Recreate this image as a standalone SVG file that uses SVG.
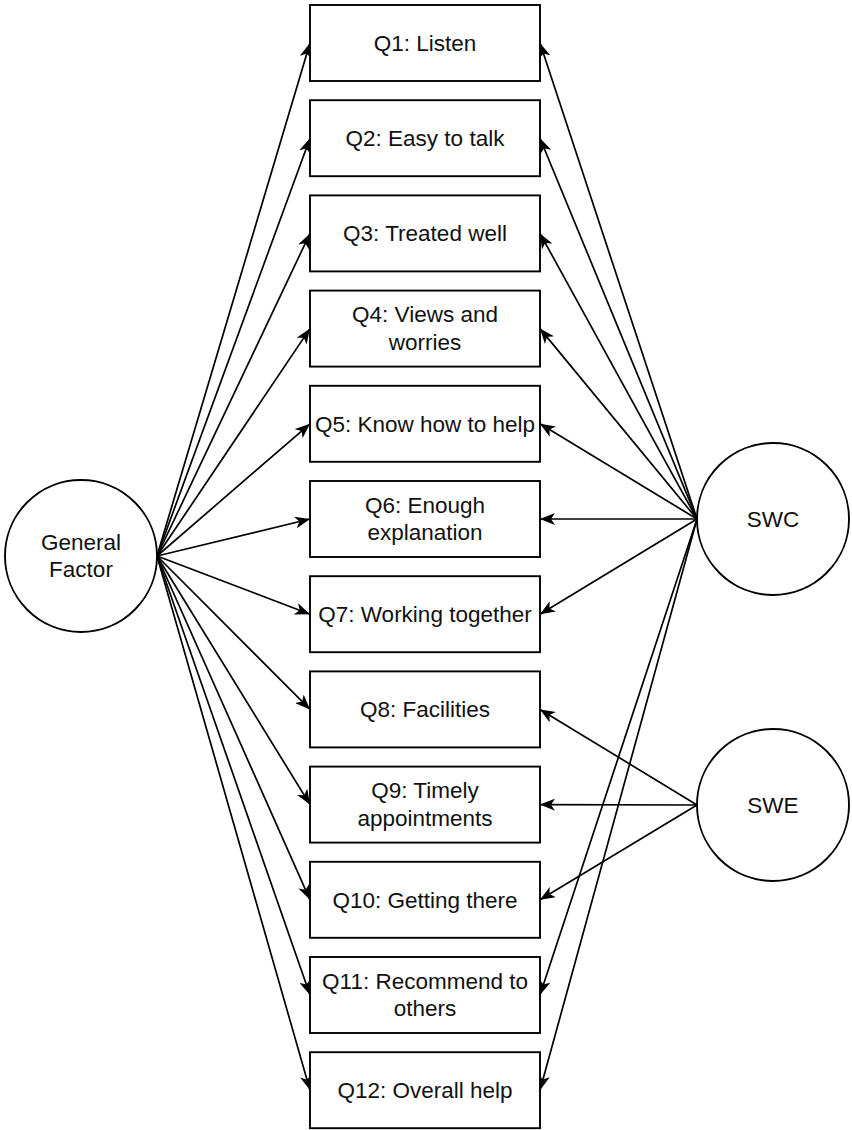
<svg xmlns="http://www.w3.org/2000/svg" width="852" height="1130" viewBox="0 0 852 1130">
<style>
.box{fill:#fff;stroke:#000;stroke-width:1.9}
.circ{fill:#fff;stroke:#000;stroke-width:1.9}
.t{font-family:"Liberation Sans",Arial,sans-serif;font-size:22.5px;fill:#111;text-anchor:middle}
.e{fill:none;stroke:#000;stroke-width:1.7;marker-end:url(#ah)}
</style>
<defs>
<marker id="ah" markerUnits="userSpaceOnUse" viewBox="0 0 15 12" markerWidth="15" markerHeight="12" refX="15" refY="6" orient="auto">
<path d="M0,0 L15,6 L0,12 L4,6 Z" fill="#000"/>
</marker>
</defs>
<rect width="852" height="1130" fill="#fff"/>
<g id="connectors">
<path class="e" d="M157,556 L310,43"/>
<path class="e" d="M157,556 L310,138.2"/>
<path class="e" d="M157,556 L310,233.4"/>
<path class="e" d="M157,556 L310,328.6"/>
<path class="e" d="M157,556 L310,423.8"/>
<path class="e" d="M157,556 L310,519"/>
<path class="e" d="M157,556 L310,614.2"/>
<path class="e" d="M157,556 L310,709.4"/>
<path class="e" d="M157,556 L310,804.6"/>
<path class="e" d="M157,556 L310,899.8"/>
<path class="e" d="M157,556 L310,995"/>
<path class="e" d="M157,556 L310,1090.2"/>
<path class="e" d="M697,519 L540,43"/>
<path class="e" d="M697,519 L540,138.2"/>
<path class="e" d="M697,519 L540,233.4"/>
<path class="e" d="M697,519 L540,328.6"/>
<path class="e" d="M697,519 L540,423.8"/>
<path class="e" d="M697,519 L540,519"/>
<path class="e" d="M697,519 L540,614.2"/>
<path class="e" d="M697,519 L540,995"/>
<path class="e" d="M697,519 L540,1090.2"/>
<path class="e" d="M697,805 L540,709.4"/>
<path class="e" d="M697,805 L540,804.6"/>
<path class="e" d="M697,805 L540,899.8"/>
</g>
<g id="Q1"><rect class="box" x="310" y="5" width="230" height="76"/><text class="t" x="425" y="51">Q1: Listen</text></g>
<g id="Q2"><rect class="box" x="310" y="100.2" width="230" height="76"/><text class="t" x="425" y="146.2">Q2: Easy to talk</text></g>
<g id="Q3"><rect class="box" x="310" y="195.4" width="230" height="76"/><text class="t" x="425" y="241.4">Q3: Treated well</text></g>
<g id="Q4"><rect class="box" x="310" y="290.6" width="230" height="76"/><text class="t" x="425" y="322.4">Q4: Views and</text><text class="t" x="425" y="350">worries</text></g>
<g id="Q5"><rect class="box" x="310" y="385.8" width="230" height="76"/><text class="t" x="425" y="431.8">Q5: Know how to help</text></g>
<g id="Q6"><rect class="box" x="310" y="481" width="230" height="76"/><text class="t" x="425" y="512.8">Q6: Enough</text><text class="t" x="425" y="540.4">explanation</text></g>
<g id="Q7"><rect class="box" x="310" y="576.2" width="230" height="76"/><text class="t" x="425" y="622.2">Q7: Working together</text></g>
<g id="Q8"><rect class="box" x="310" y="671.4" width="230" height="76"/><text class="t" x="425" y="717.4">Q8: Facilities</text></g>
<g id="Q9"><rect class="box" x="310" y="766.6" width="230" height="76"/><text class="t" x="425" y="798.4">Q9: Timely</text><text class="t" x="425" y="826">appointments</text></g>
<g id="Q10"><rect class="box" x="310" y="861.8" width="230" height="76"/><text class="t" x="425" y="907.8">Q10: Getting there</text></g>
<g id="Q11"><rect class="box" x="310" y="957" width="230" height="76"/><text class="t" x="425" y="988.8">Q11: Recommend to</text><text class="t" x="425" y="1016.4">others</text></g>
<g id="Q12"><rect class="box" x="310" y="1052.2" width="230" height="76"/><text class="t" x="425" y="1098.2">Q12: Overall help</text></g>
<g id="GeneralFactor"><circle class="circ" cx="81" cy="556" r="76"/><text class="t" x="81" y="549.5">General</text><text class="t" x="81" y="577">Factor</text></g>
<g id="SWC"><circle class="circ" cx="773" cy="519" r="76"/><text class="t" x="773" y="527">SWC</text></g>
<g id="SWE"><circle class="circ" cx="773" cy="805" r="76"/><text class="t" x="773" y="813">SWE</text></g>
</svg>
